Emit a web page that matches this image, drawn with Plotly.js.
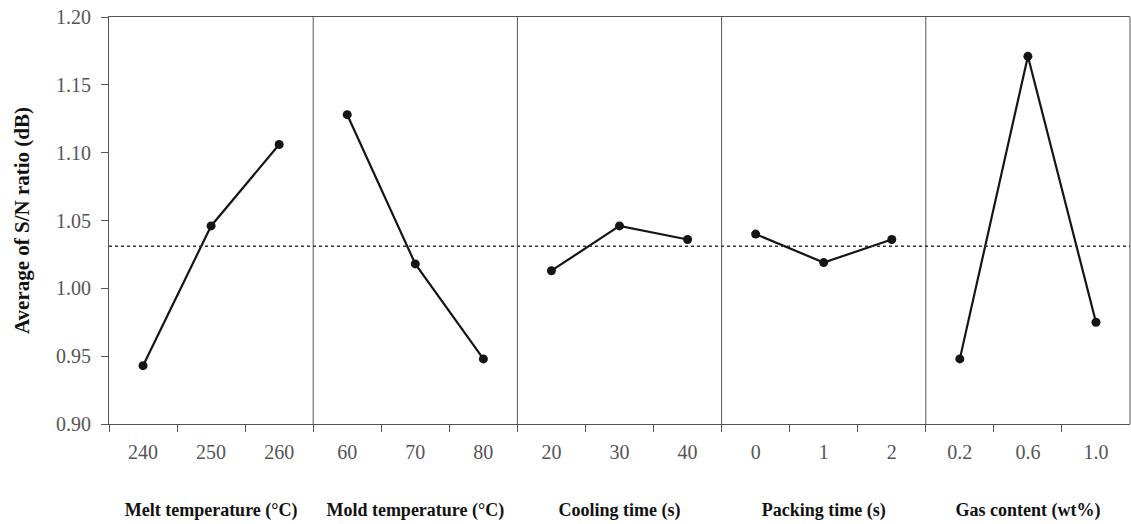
<!DOCTYPE html>
<html>
<head>
<meta charset="utf-8">
<script src="https://cdn.plot.ly/plotly-3.0.1.min.js"></script>
<style>html,body{margin:0;padding:0;background:#fff;}#chart{width:1131px;height:524px;}</style>
</head>
<body>
<div id="chart"></div>
<script>
// Factor names (panel titles)
const factors = ["Melt temperature (°C)", "Mold temperature (°C)", "Cooling time (s)", "Packing time (s)", "Gas content (wt%)"];
// Level labels per factor
const levels1 = ["240", "250", "260"];
const levels2 = ["60", "70", "80"];
const levels3 = ["20", "30", "40"];
const levels4 = ["0", "1", "2"];
const levels5 = ["0.2", "0.6", "1.0"];
// Average S/N ratio (dB) per level
const sn1 = [0.943, 1.046, 1.106];
const sn2 = [1.128, 1.018, 0.948];
const sn3 = [1.013, 1.046, 1.036];
const sn4 = [1.040, 1.019, 1.036];
const sn5 = [0.948, 1.171, 0.975];
// Overall mean S/N ratio
const overallMean = 1.031;
// Y axis ticks
const yTicks = [0.90, 0.95, 1.00, 1.05, 1.10, 1.15, 1.20];

const levels = [levels1, levels2, levels3, levels4, levels5];
const sns = [sn1, sn2, sn3, sn4, sn5];

const serif = "Liberation Serif, DejaVu Serif, serif";
const axisColor = "#555";
const traces = [];
const layout = {
  width: 1131, height: 524,
  margin: {l: 109, r: 1, t: 17, b: 100},
  paper_bgcolor: "#fff", plot_bgcolor: "#fff",
  showlegend: false,
  font: {family: serif, color: "#000"},
  yaxis: {
    range: [0.90, 1.20], tickvals: yTicks,
    ticktext: yTicks.map(v => v.toFixed(2)),
    ticks: "outside", ticklen: 7, tickcolor: axisColor, tickwidth: 1,
    ticklabelstandoff: 6,
    showline: true, linecolor: axisColor, linewidth: 1,
    showgrid: false, zeroline: false,
    tickfont: {family: serif, size: 20, color: "#555"},
    title: {text: "<b>Average of S/N ratio (dB)</b>", font: {family: serif, size: 21, color: "#111"}, standoff: 20},
    anchor: "x"
  },
  shapes: [],
  annotations: []
};

for (let i = 0; i < 5; i++) {
  const ax = i === 0 ? "x" : "x" + (i + 1);
  const axKey = i === 0 ? "xaxis" : "xaxis" + (i + 1);
  traces.push({
    type: "scatter", mode: "lines+markers",
    x: levels[i], y: sns[i], xaxis: ax, yaxis: "y",
    line: {color: "#151515", width: 2.2},
    marker: {color: "#151515", size: 9},
    hoverinfo: "x+y"
  });
  layout[axKey] = {
    domain: [i * 0.2, (i + 1) * 0.2],
    type: "category", range: [-0.5, 2.5],
    tickson: "boundaries",
    ticks: "outside", ticklen: 7, tickcolor: axisColor, tickwidth: 1,
    ticklabelstandoff: 10,
    showline: true, mirror: true, linecolor: axisColor, linewidth: 1,
    showgrid: false, zeroline: false,
    anchor: "y",
    tickfont: {family: serif, size: 20, color: "#555"},
    title: {text: "<b>" + factors[i] + "</b>", font: {family: serif, size: 18, color: "#111"}, standoff: 41}
  };
  // panel divider / right border
  layout.shapes.push({
    type: "line", xref: "paper", yref: "paper",
    x0: (i + 1) * 0.2, x1: (i + 1) * 0.2, y0: 0, y1: 1,
    line: {color: axisColor, width: 1}
  });
}
// overall mean dotted line
layout.shapes.push({
  type: "line", xref: "paper", yref: "y",
  x0: 0, x1: 1, y0: overallMean, y1: overallMean,
  line: {color: "#333", width: 1.5, dash: "dot"}
});

Plotly.newPlot("chart", traces, layout, {displayModeBar: false, staticPlot: true});
</script>
</body>
</html>
